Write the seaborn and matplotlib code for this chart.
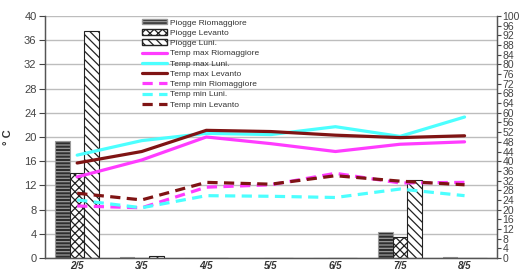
import pandas as pd
import matplotlib
matplotlib.use("Agg")
import matplotlib.pyplot as plt
import seaborn as sns
from matplotlib.patches import Patch

# data
giorni = ["2/5", "3/5", "4/5", "5/5", "6/5", "7/5", "8/5"]

pioggia_rio = [48.5, 0.5, 0.0, 0.0, 0.0, 10.7, 0.5]
pioggia_lev = [35.0, 0.0, 0.0, 0.0, 0.0, 8.8, 0.0]
pioggia_luni = [94.0, 1.0, 0.0, 0.0, 0.0, 32.2, 0.0]

tmax_rio = [13.4, 16.2, 20.0, 18.9, 17.6, 18.8, 19.2]
tmax_luni = [17.0, 19.4, 20.6, 20.4, 21.7, 20.1, 23.3]
tmax_lev = [15.7, 17.6, 21.1, 20.9, 20.3, 19.9, 20.2]
tmin_rio = [8.6, 8.3, 11.7, 12.1, 14.0, 12.4, 12.5]
tmin_luni = [9.6, 8.3, 10.3, 10.2, 10.0, 11.4, 10.3]
tmin_lev = [10.7, 9.6, 12.5, 12.2, 13.6, 12.7, 12.1]

serie_bar = ["Piogge Riomaggiore", "Piogge Levanto", "Piogge Luni."]

#Code starts here
sns.set_style("white")
plt.rcParams['font.family'] = ['Liberation Sans', 'DejaVu Sans']
plt.rcParams['hatch.linewidth'] = 0.9

fig = plt.figure(figsize=(5.28, 2.71), dpi=100)
ax = fig.add_axes([0.085, 0.048, 0.856, 0.893])
ax2 = ax.twinx()

bars = pd.DataFrame({
    "giorno": giorni * 3,
    "mm": pioggia_rio + pioggia_lev + pioggia_luni,
    "serie": [serie_bar[0]] * 7 + [serie_bar[1]] * 7 + [serie_bar[2]] * 7,
})
sns.barplot(data=bars, x="giorno", y="mm", hue="serie", hue_order=serie_bar,
            order=giorni, ax=ax2, width=0.68, gap=0, legend=False,
            errorbar=None, saturation=1)

stili = [("#2e2e2e", "#9a9a9a", "-----"),
         ("white", "#222222", "xxxx"),
         ("white", "#222222", "\\\\\\\\")]
for cont, (fc, ec, h) in zip(ax2.containers, stili):
    for p in cont:
        p.set_facecolor(fc)
        p.set_edgecolor(ec)
        p.set_hatch(h)
        p.set_linewidth(0.8)

linee = [
    ("Temp max Riomaggiore", tmax_rio, "#ff3cff", "-"),
    ("Temp max Luni.", tmax_luni, "#4cffff", "-"),
    ("Temp max Levanto", tmax_lev, "#7f1414", "-"),
    ("Temp min Riomaggiore", tmin_rio, "#ff3cff", "--"),
    ("Temp min Luni.", tmin_luni, "#4cffff", "--"),
    ("Temp min Levanto", tmin_lev, "#7f1414", "--"),
]
for nome, vals, col, ls in linee:
    df = pd.DataFrame({"x": range(len(giorni)), "t": vals})
    sns.lineplot(data=df, x="x", y="t", ax=ax, color=col, lw=2.3,
                 label=nome, legend=False)
    ax.lines[-1].set_linestyle(ls)
    if ls == "--":
        ax.lines[-1].set_dashes((3.2, 2.0))

ax.set_zorder(ax2.get_zorder() + 1)
ax.patch.set_visible(False)

ax.set_xlim(-0.5, 6.5)
ax.set_ylim(0, 40)
ax.set_yticks(range(0, 41, 4))
ax2.set_ylim(0, 100)
ax2.set_yticks(list(range(0, 100, 4)) + [100])

ax.grid(False)
ax2.grid(False)
for v in range(0, 41, 4):
    ax2.axhline(v * 2.5, color="#bdbdbd", lw=1.0, zorder=0)

ax.set_xticks(range(7))
ax.set_xticklabels(giorni, fontsize=7, fontweight="bold", fontstyle="italic",
                   color="#333333")
ax.tick_params(axis="x", length=0, pad=2)
ax.set_xticks([i - 0.5 for i in range(8)], minor=True)
ax.tick_params(axis="x", which="minor", length=4, width=0.8, direction="out",
               color="#333333")
ax.tick_params(axis="y", labelsize=8, colors="#444444", length=4, width=0.8,
               direction="out", pad=2)
ax2.tick_params(axis="y", labelsize=7.5, colors="#444444", length=3,
                width=0.8, direction="out", pad=1)

ax.set_xlabel("")
ax.set_ylabel("° C", fontsize=8, fontweight="bold", color="#333333", labelpad=8)
ax2.set_ylabel("")

for a in (ax, ax2):
    a.spines["top"].set_visible(False)
    for s in ("left", "right", "bottom"):
        a.spines[s].set_color("#555555")
        a.spines[s].set_linewidth(0.9)

# legend
handles = []
for nome, (fc, ec, h) in zip(serie_bar, stili):
    handles.append(Patch(facecolor=fc, edgecolor=ec, hatch=h, label=nome))
handles += ax.lines[:6]
labels = serie_bar + [l[0] for l in linee]
leg = ax.legend(handles, labels, loc="upper left",
                bbox_to_anchor=(142 / 528, 1 - 19 / 271),
                bbox_transform=fig.transFigure, frameon=False, fontsize=6,
                handlelength=3.0, handleheight=0.6, labelspacing=0.32,
                handletextpad=0.4, borderpad=0, borderaxespad=0)
for t in leg.get_texts():
    t.set_color("#333333")

fig.savefig("out.png", dpi=100)
#Code ends here
